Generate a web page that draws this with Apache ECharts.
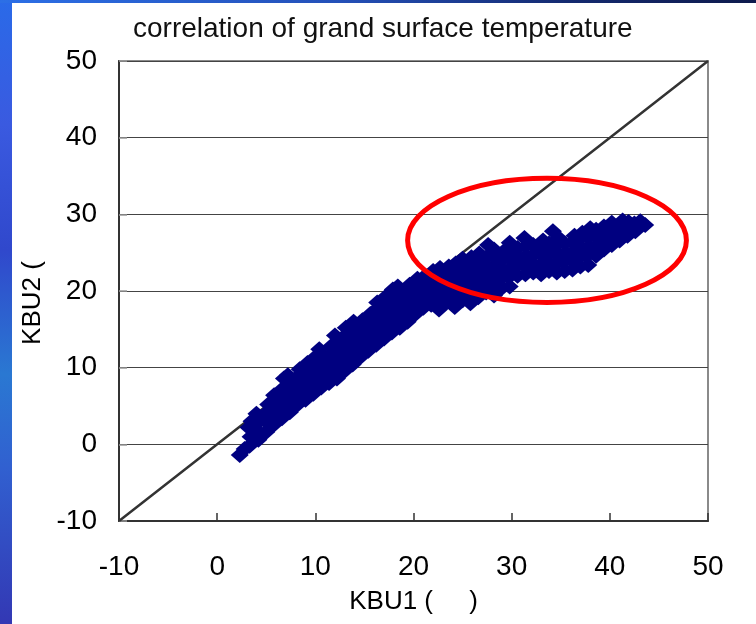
<!DOCTYPE html>
<html>
<head>
<meta charset="utf-8">
<script src="https://cdn.jsdelivr.net/npm/echarts@6/dist/echarts.min.js"></script>
<style>
  html, body { margin: 0; padding: 0; }
  body { width: 756px; height: 624px; position: relative; overflow: hidden; background: #fff; }
  .strip-left {
    position: absolute; left: 0; top: 0; width: 12px; height: 624px;
    background: linear-gradient(to bottom, #2a6ae8 0%, #3a5ae0 20%, #3048cc 40%, #2a78d2 60%, #3160d0 75%, #3338b4 100%);
  }
  .strip-top {
    position: absolute; left: 0; top: 0; width: 756px; height: 3px;
    background: linear-gradient(to right, #2c6fe6 0%, #2450b8 45%, #142a70 75%, #0e1a4c 100%);
  }
  #chart { position: absolute; left: 0; top: 0; width: 756px; height: 624px; }
</style>
</head>
<body>
<div class="strip-left"></div>
<div class="strip-top"></div>
<div id="chart"></div>
<script>
// axis ticks (both axes share the same range)
const axisTicks = [-10, 0, 10, 20, 30, 40, 50];

// y = x reference line
const identityLine = [-10, 0, 10, 20, 30, 40, 50];

// [KBU1, KBU2] ground surface temperature pairs
const kbuPairs = [
  [2.3, -1.4], [2.8, -0.6],
  [3.3, -0.2], [3.4, 1.0], [3.2, 2.2], [3.5, 3.0],
  [4.2, 0.6], [4.1, 1.8], [4.3, 3.0], [4.0, 4.0],
  [5.0, 1.6], [5.1, 2.8], [4.9, 4.0], [5.2, 5.2],
  [5.8, 2.6], [5.7, 3.8], [5.9, 5.0], [5.8, 6.4],
  [6.6, 3.4], [6.5, 4.6], [6.7, 5.8], [6.6, 7.2], [6.8, 8.6],
  [7.4, 4.2], [7.3, 5.4], [7.5, 6.6], [7.4, 7.9], [7.2, 9.0],
  [8.2, 5.2], [8.1, 6.4], [8.3, 7.6], [8.2, 8.8], [8.4, 9.8],
  [9.0, 5.8], [8.9, 7.0], [9.1, 8.2], [9.0, 9.4], [9.2, 10.6],
  [9.8, 6.6], [9.7, 7.8], [9.9, 9.0], [9.8, 10.2], [10.0, 11.4],
  [10.6, 7.4], [10.5, 8.6], [10.7, 9.8], [10.6, 11.0], [10.4, 12.4],
  [11.4, 8.0], [11.3, 9.2], [11.5, 10.4], [11.4, 11.6], [11.6, 12.8],
  [12.2, 8.6], [12.1, 9.8], [12.3, 11.0], [12.2, 12.2], [12.4, 13.4], [12.0, 14.2],
  [13.0, 9.6], [12.9, 10.8], [13.1, 12.0], [13.0, 13.2], [13.2, 14.4], [13.1, 15.2],
  [13.8, 10.4], [13.7, 11.6], [13.9, 12.8], [13.8, 14.0], [14.0, 15.2], [13.9, 16.0],
  [14.6, 11.4], [14.5, 12.6], [14.7, 13.8], [14.6, 15.0], [14.8, 16.2],
  [15.4, 12.2], [15.3, 13.4], [15.5, 14.6], [15.4, 15.8], [15.6, 17.0],
  [16.2, 13.0], [16.1, 14.2], [16.3, 15.4], [16.2, 16.6], [16.4, 17.8], [16.3, 18.5],
  [17.0, 13.8], [16.9, 15.0], [17.1, 16.2], [17.0, 17.4], [17.2, 18.6], [17.1, 19.2],
  [17.8, 14.6], [17.7, 15.8], [17.9, 17.0], [17.8, 18.2], [18.0, 19.4], [17.9, 20.2],
  [18.6, 15.2], [18.5, 16.4], [18.7, 17.6], [18.6, 18.8], [18.8, 20.0], [18.4, 20.6],
  [19.4, 16.0], [19.3, 17.2], [19.5, 18.4], [19.4, 19.6], [19.6, 20.8],
  [20.2, 17.0], [20.1, 18.2], [20.3, 19.4], [20.2, 20.6], [20.4, 21.6],
  [21.0, 17.8], [20.9, 19.0], [21.1, 20.2], [21.0, 21.4], [21.2, 22.0],
  [21.8, 18.2], [21.7, 19.4], [21.9, 20.6], [21.8, 21.8], [22.0, 22.6],
  [22.6, 17.6], [22.5, 18.8], [22.7, 20.0], [22.6, 21.2], [22.8, 22.4], [22.7, 23.0],
  [23.4, 18.6], [23.3, 19.8], [23.5, 21.0], [23.4, 22.2], [23.6, 23.2],
  [24.2, 17.9], [24.1, 19.2], [24.3, 20.4], [24.2, 21.6], [24.4, 22.8], [24.3, 23.6],
  [25.0, 18.8], [24.9, 20.0], [25.1, 21.2], [25.0, 22.4], [25.2, 23.6], [25.0, 24.2],
  [25.8, 18.4], [25.7, 19.6], [25.9, 20.8], [25.8, 22.0], [26.0, 23.2], [25.9, 24.4],
  [26.6, 19.2], [26.5, 20.4], [26.7, 21.6], [26.6, 22.8], [26.8, 24.0], [26.7, 24.9],
  [27.4, 19.8], [27.3, 21.0], [27.5, 22.2], [27.4, 23.4], [27.6, 24.6], [27.6, 26.0],
  [28.2, 19.4], [28.1, 20.6], [28.3, 21.8], [28.2, 23.0], [28.4, 24.2], [28.2, 25.4],
  [29.0, 20.4], [28.9, 21.6], [29.1, 22.8], [29.0, 24.0], [29.2, 25.2],
  [29.8, 20.6], [29.7, 21.8], [29.9, 23.0], [29.8, 24.2], [30.0, 25.4], [29.8, 26.3],
  [30.6, 22.0], [30.5, 23.2], [30.7, 24.4], [30.6, 25.6],
  [31.4, 22.2], [31.3, 23.4], [31.5, 24.6], [31.4, 25.8], [31.3, 26.9],
  [32.2, 22.4], [32.1, 23.6], [32.3, 24.8], [32.2, 26.0],
  [33.0, 22.2], [32.9, 23.4], [33.1, 24.6], [33.0, 25.8], [33.2, 26.6],
  [33.8, 22.6], [33.7, 23.8], [33.9, 25.0], [33.8, 26.2], [34.2, 27.8],
  [34.6, 22.4], [34.5, 23.6], [34.7, 24.8], [34.6, 26.0], [34.8, 26.9],
  [35.4, 22.6], [35.3, 23.8], [35.5, 25.0], [35.4, 26.2],
  [36.2, 22.8], [36.1, 24.0], [36.3, 25.2], [36.2, 26.4], [36.4, 27.2],
  [37.0, 23.2], [36.9, 24.4], [37.1, 25.6], [37.0, 26.8], [37.2, 27.6],
  [37.8, 23.4], [37.7, 24.6], [37.9, 25.8], [37.8, 27.0], [38.0, 28.2],
  [38.6, 24.6], [38.5, 25.8], [38.7, 27.0], [38.6, 28.0],
  [39.4, 25.4], [39.3, 26.6], [39.5, 27.6], [39.4, 28.4],
  [40.2, 26.0], [40.1, 27.2], [40.3, 28.2], [40.2, 28.9],
  [41.0, 26.6], [40.9, 27.8], [41.1, 28.6], [41.3, 29.2],
  [41.8, 27.2], [41.7, 28.2], [41.9, 29.0],
  [42.6, 27.8], [42.5, 28.8], [43.1, 29.1],
  [43.6, 28.6]
];

// highlight ellipse, in data units
const ellipseCenter = [33.6, 26.6];
const ellipseRadius = [14.2, 8.1];

const font = "'Liberation Sans', Arial, sans-serif";
const chart = echarts.init(document.getElementById('chart'));

chart.setOption({
  animation: false,
  title: {
    text: 'correlation of grand surface temperature',
    left: 128,
    top: 10,
    textStyle: { fontFamily: font, fontSize: 28, fontWeight: 'normal', color: '#111' }
  },
  grid: {
    left: 119, right: 48, top: 61, bottom: 103,
    outerBoundsMode: 'none',
    show: true, borderColor: '#8a8a8a', borderWidth: 2
  },
  xAxis: {
    type: 'value',
    min: axisTicks[0], max: axisTicks[axisTicks.length - 1], interval: 10,
    name: 'KBU1 (     )',
    nameLocation: 'middle',
    nameGap: 68,
    nameTextStyle: { fontFamily: font, fontSize: 26, color: '#000' },
    axisLine: { show: true, onZero: false, lineStyle: { color: '#333', width: 2 } },
    axisTick: { show: true, inside: true, length: 8, lineStyle: { color: '#333', width: 1.5 } },
    axisLabel: { fontFamily: font, fontSize: 28, color: '#000', margin: 32 },
    splitLine: { show: false }
  },
  yAxis: {
    type: 'value',
    min: axisTicks[0], max: axisTicks[axisTicks.length - 1], interval: 10,
    name: 'KBU2 (',
    nameLocation: 'middle',
    nameGap: 66,
    nameTextStyle: { fontFamily: font, fontSize: 26, color: '#000', padding: [0, 24, 0, 0] },
    axisLine: { show: true, onZero: false, lineStyle: { color: '#333', width: 2 } },
    axisTick: { show: true, inside: true, length: 8, lineStyle: { color: '#999', width: 1.5 } },
    axisLabel: { fontFamily: font, fontSize: 28, color: '#000', margin: 22, padding: [8, 0, 0, 0] },
    splitLine: { show: true, lineStyle: { color: '#444', width: 1.2 } }
  },
  series: [
    {
      type: 'line',
      data: identityLine.map(v => [v, v]),
      symbol: 'none',
      silent: true,
      z: 1,
      lineStyle: { color: '#333', width: 2.5 }
    },
    {
      type: 'scatter',
      data: kbuPairs,
      symbol: 'diamond',
      symbolSize: [18, 16],
      z: 2,
      itemStyle: { color: '#000080', opacity: 1, borderWidth: 0 }
    }
  ]
});

const c = chart.convertToPixel({ gridIndex: 0 }, ellipseCenter);
const e = chart.convertToPixel({ gridIndex: 0 }, [ellipseCenter[0] + ellipseRadius[0], ellipseCenter[1] + ellipseRadius[1]]);
chart.setOption({
  graphic: [{
    type: 'ellipse',
    shape: { cx: c[0], cy: c[1], rx: Math.abs(e[0] - c[0]), ry: Math.abs(c[1] - e[1]) },
    style: { fill: 'none', stroke: '#ff0000', lineWidth: 5 },
    z: 10,
    silent: true
  }]
});
</script>
</body>
</html>
